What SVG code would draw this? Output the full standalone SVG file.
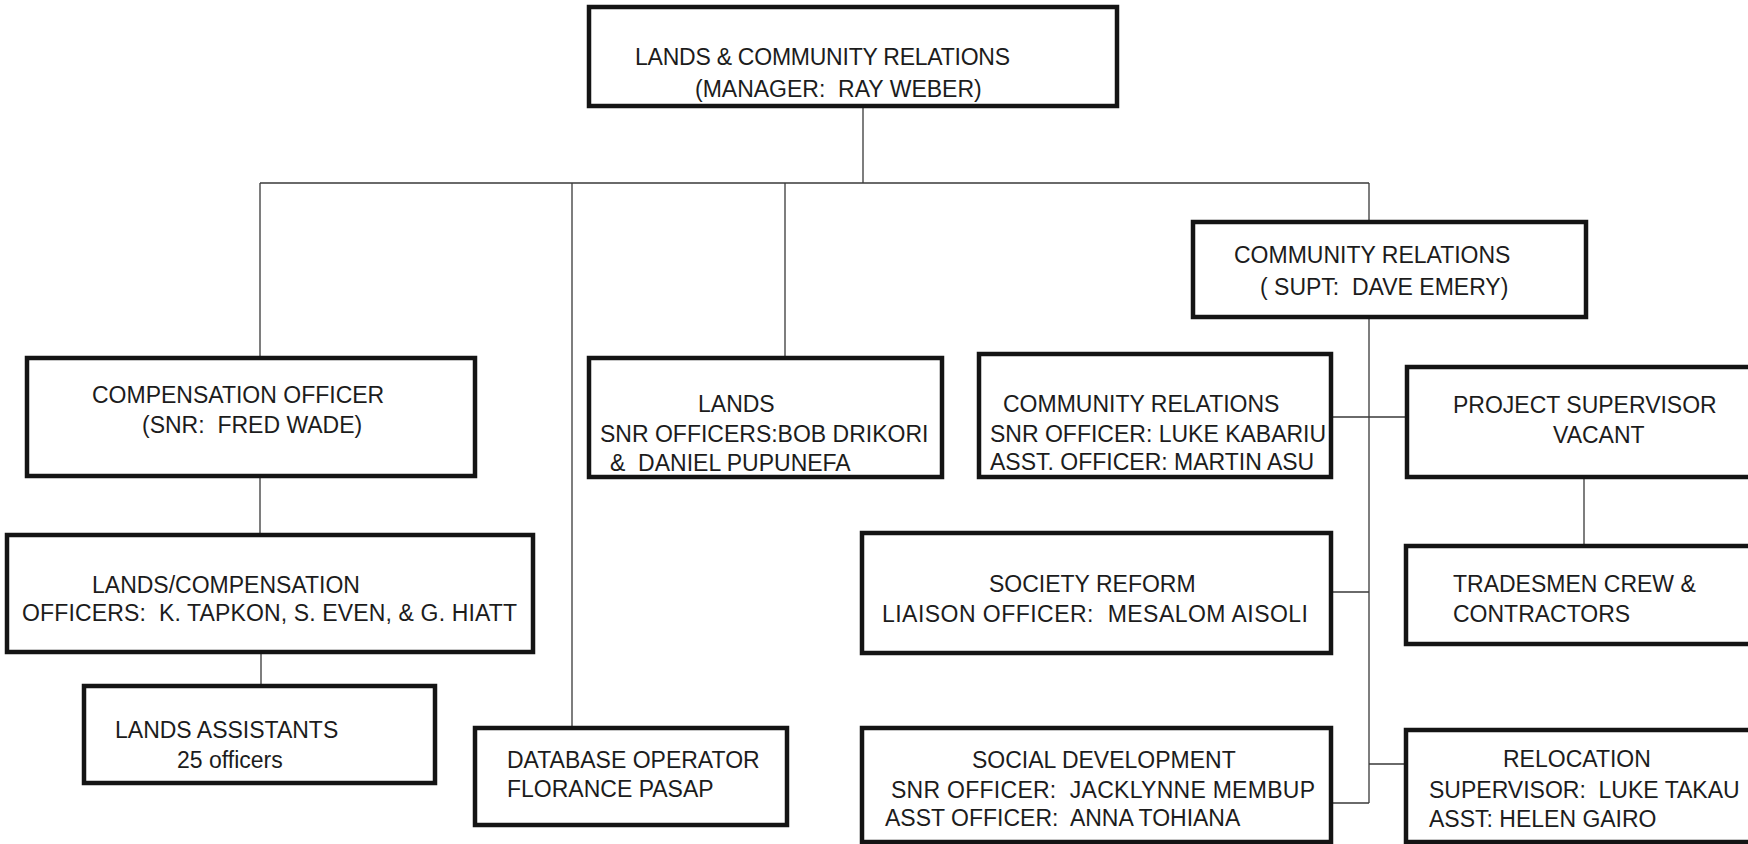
<svg xmlns="http://www.w3.org/2000/svg" width="1748" height="844" viewBox="0 0 1748 844" xml:space="preserve">
<style>
.box{fill:#fff;stroke:#141414;stroke-width:4.5}
.t{font-family:"Liberation Sans",Arial,sans-serif;font-size:23px;fill:#1c1c1c;white-space:pre}
.c{fill:none;stroke:#3a3a3a;stroke-width:1.3}
</style>
<rect width="1748" height="844" fill="#fff"/>
<g id="connectors">
<path class="c" d="M863 106V183M260 183H1369M260 183V358M572 183V728M785 183V358M1369 183V222M1369 317V803M1331 417H1407M1331 592H1369M1331 803H1369M1369 764H1406M1584 477V546M260 476V535M261 652V686"/>
</g>
<g id="manager">
<rect class="box" x="589" y="7" width="528" height="99"/>
<text class="t" x="635" y="65" textLength="375">LANDS &amp; COMMUNITY RELATIONS</text>
<text class="t" x="695" y="97">(MANAGER:  RAY WEBER)</text>
</g>
<g id="compensation">
<rect class="box" x="27" y="358" width="448" height="118"/>
<text class="t" x="92" y="403">COMPENSATION OFFICER</text>
<text class="t" x="142" y="433">(SNR:  FRED WADE)</text>
</g>
<g id="lands">
<rect class="box" x="589" y="358" width="353" height="119"/>
<text class="t" x="698" y="412">LANDS</text>
<text class="t" x="600" y="442">SNR OFFICERS:BOB DRIKORI</text>
<text class="t" x="610" y="471">&amp;  DANIEL PUPUNEFA</text>
</g>
<g id="cr-supt">
<rect class="box" x="1193" y="222" width="393" height="95"/>
<text class="t" x="1234" y="263">COMMUNITY RELATIONS</text>
<text class="t" x="1260" y="295">( SUPT:  DAVE EMERY)</text>
</g>
<g id="cr-officers">
<rect class="box" x="979" y="354" width="352" height="123"/>
<text class="t" x="1003" y="412">COMMUNITY RELATIONS</text>
<text class="t" x="990" y="442">SNR OFFICER: LUKE KABARIU</text>
<text class="t" x="990" y="470">ASST. OFFICER: MARTIN ASU</text>
</g>
<g id="project-supervisor">
<rect class="box" x="1407" y="367" width="360" height="110"/>
<text class="t" x="1453" y="413">PROJECT SUPERVISOR</text>
<text class="t" x="1553" y="443">VACANT</text>
</g>
<g id="lands-compensation">
<rect class="box" x="7" y="535" width="526" height="117"/>
<text class="t" x="92" y="593">LANDS/COMPENSATION</text>
<text class="t" x="22" y="621" textLength="495">OFFICERS:  K. TAPKON, S. EVEN, &amp; G. HIATT</text>
</g>
<g id="society-reform">
<rect class="box" x="862" y="533" width="469" height="120"/>
<text class="t" x="989" y="592">SOCIETY REFORM</text>
<text class="t" x="882" y="622" textLength="426">LIAISON OFFICER:  MESALOM AISOLI</text>
</g>
<g id="tradesmen">
<rect class="box" x="1406" y="546" width="360" height="98"/>
<text class="t" x="1453" y="592">TRADESMEN CREW &amp;</text>
<text class="t" x="1453" y="622">CONTRACTORS</text>
</g>
<g id="lands-assistants">
<rect class="box" x="84" y="686" width="351" height="97"/>
<text class="t" x="115" y="738">LANDS ASSISTANTS</text>
<text class="t" x="177" y="768">25 officers</text>
</g>
<g id="database">
<rect class="box" x="475" y="728" width="312" height="97"/>
<text class="t" x="507" y="768">DATABASE OPERATOR</text>
<text class="t" x="507" y="797">FLORANCE PASAP</text>
</g>
<g id="social-development">
<rect class="box" x="862" y="728" width="469" height="114"/>
<text class="t" x="972" y="768">SOCIAL DEVELOPMENT</text>
<text class="t" x="891" y="798" textLength="424">SNR OFFICER:  JACKLYNNE MEMBUP</text>
<text class="t" x="885" y="826">ASST OFFICER:  ANNA TOHIANA</text>
</g>
<g id="relocation">
<rect class="box" x="1406" y="730" width="360" height="112"/>
<text class="t" x="1503" y="767">RELOCATION</text>
<text class="t" x="1429" y="798">SUPERVISOR:  LUKE TAKAU</text>
<text class="t" x="1429" y="827">ASST: HELEN GAIRO</text>
</g>
</svg>
